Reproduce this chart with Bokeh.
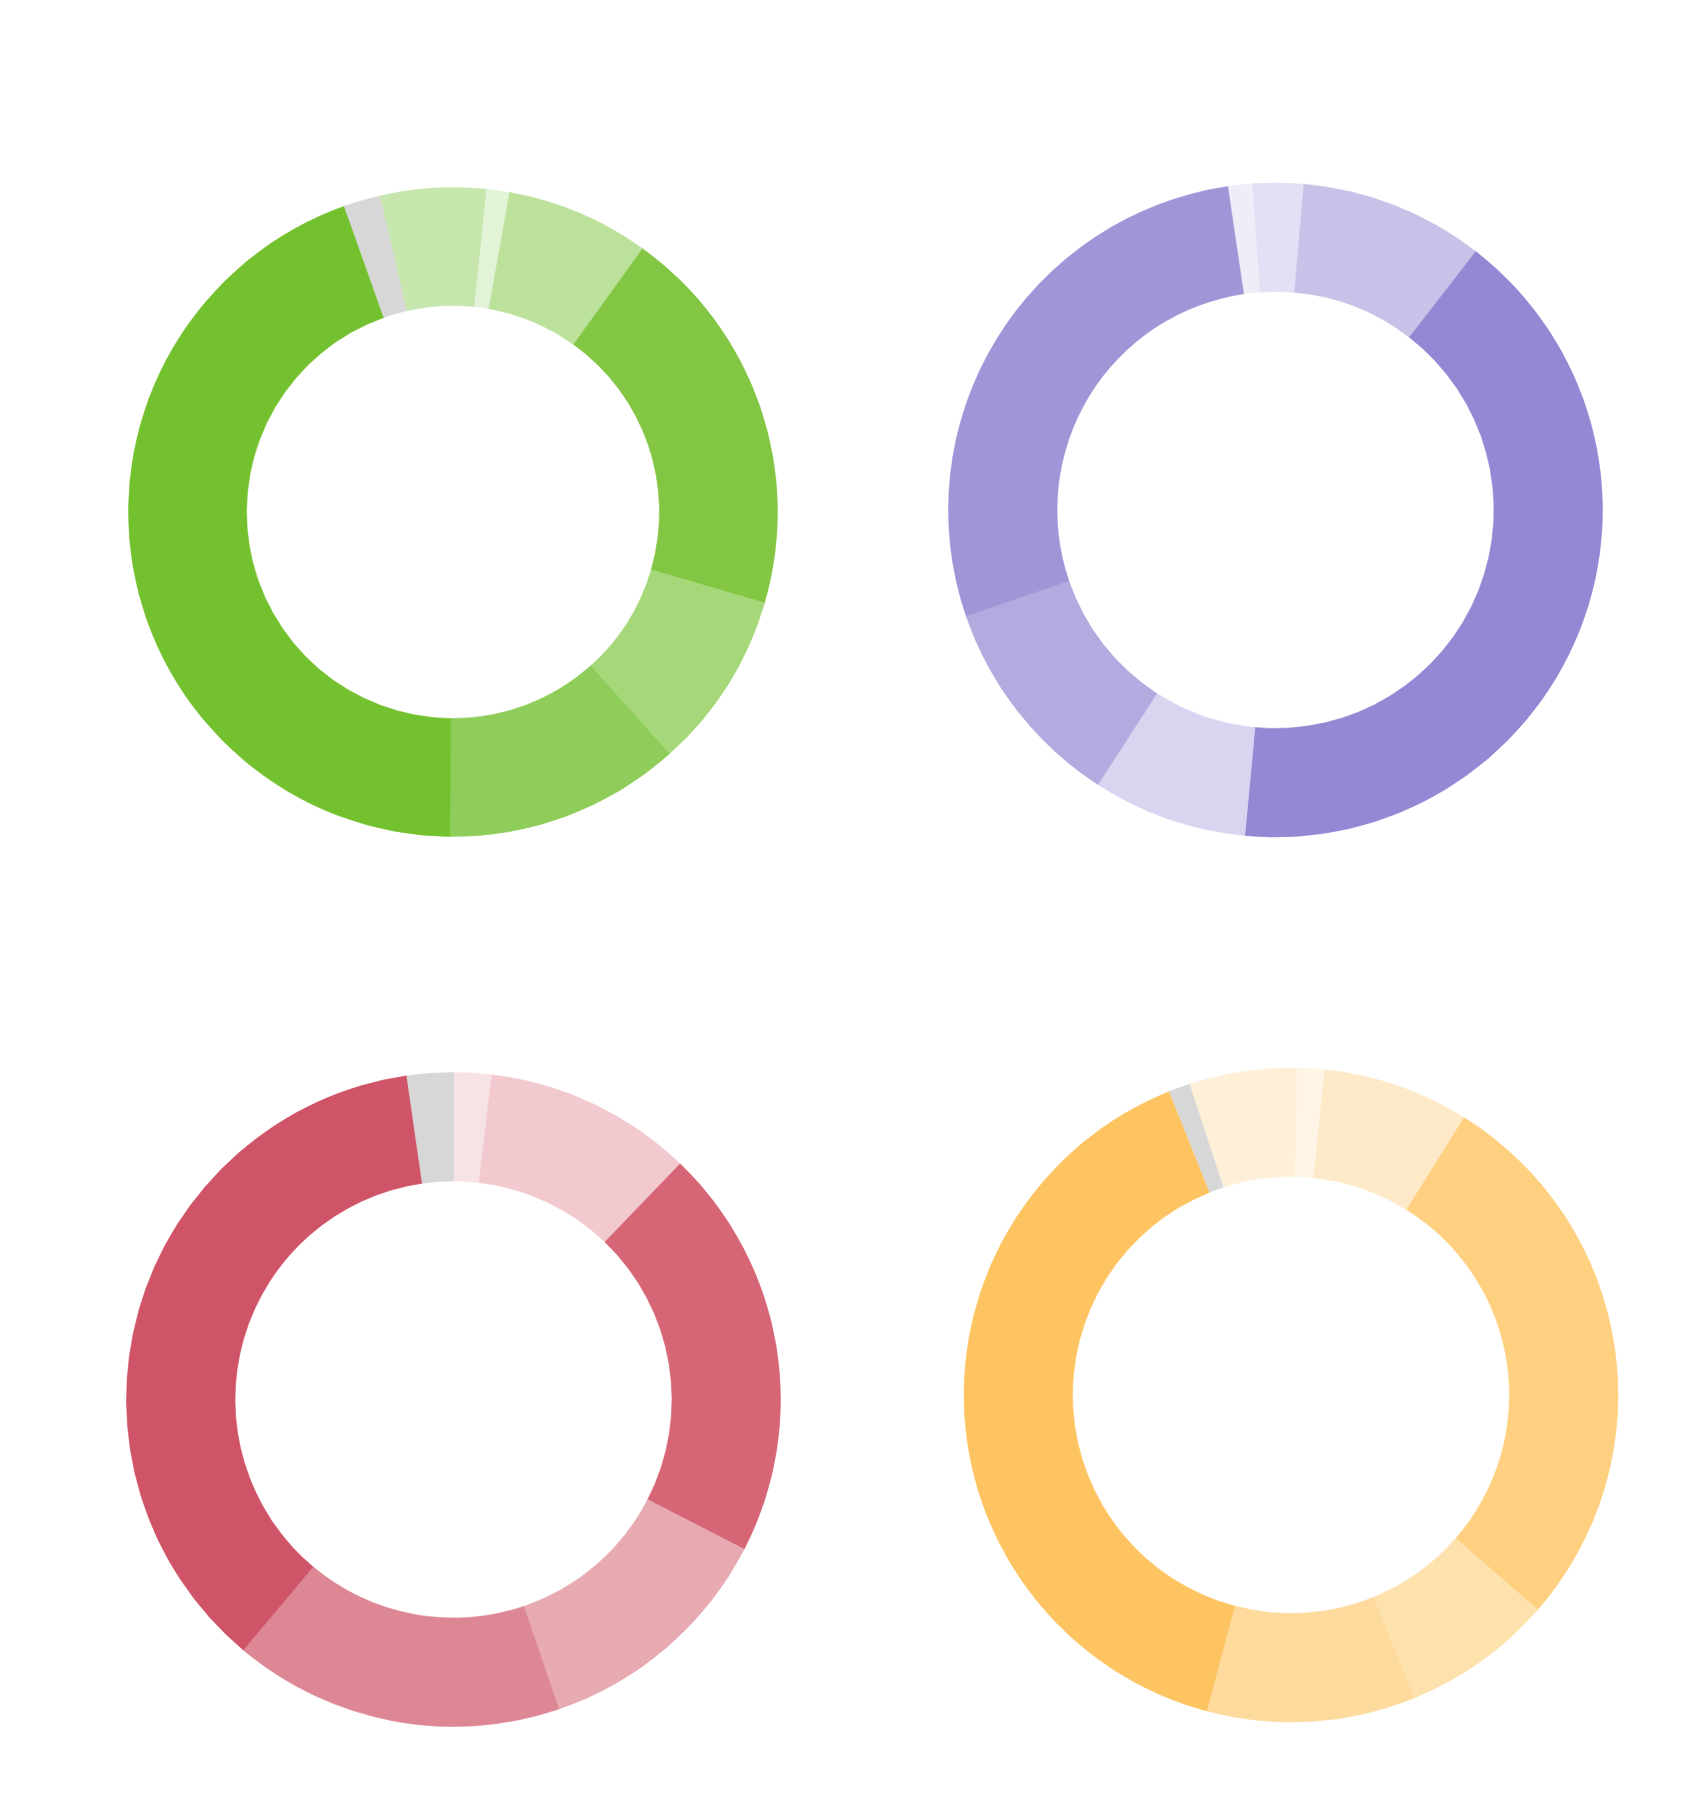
import numpy as np
from bokeh.plotting import figure
from bokeh.layouts import gridplot
from bokeh.models import Range1d, ColumnDataSource
from bokeh.embed import file_html
from bokeh.resources import INLINE

# ---- data (shares, percent) ----
green_values = [5.29, 1.13, 7.14, 19.59, 8.86, 11.78, 44.41, 1.81]
green_colors = ["#c6e6ad", "#e2f3d8", "#bce19a", "#82c644", "#a6d87a", "#8fcd5a", "#73c12e", "#d7d7d7"]

purple_values = [1.22, 2.50, 9.11, 41.00, 7.64, 10.61, 27.92]
purple_colors = ["#f0edf9", "#e3dff4", "#c8c2e8", "#9487d4", "#dad4f1", "#b4aadf", "#9f95d7"]

red_values = [1.87, 10.32, 20.39, 12.21, 16.33, 36.61, 2.28]
red_colors = ["#f7e3e6", "#f1c9ce", "#d66676", "#e7aab1", "#dc8793", "#d05467", "#d7d7d7"]

orange_values = [5.34, 1.34, 7.23, 27.52, 7.45, 10.30, 39.78, 1.04]
orange_colors = ["#fef0d8", "#fff5e6", "#feeac9", "#fed080", "#fee2ae", "#feda9c", "#fec462", "#d7d7d7"]

# ---- layout / style ----
# (start angle clockwise from 12 o'clock in degrees, inner r, outer r, center x, center y in panel)
PANEL_W, PANEL_H = 850, 900
charts = [
    (green_values, green_colors, 346.95, 206.5, 324.5, 452.5, 511.5),
    (purple_values, purple_colors, 351.6, 218.5, 327, 425, 509.5),
    (red_values, red_colors, 0.0, 218.5, 327, 453, 499),
    (orange_values, orange_colors, 341.9, 218.5, 327, 440.5, 494.5),
]


def donut(values, colors, start_deg, r_in, r_out, cx, cy):
    p = figure(width=PANEL_W, height=PANEL_H, output_backend="svg", toolbar_location=None,
               x_axis_location=None, y_axis_location=None, min_border=0,
               x_range=Range1d(-cx, PANEL_W - cx), y_range=Range1d(-(PANEL_H - cy), cy))
    p.grid.visible = False
    p.outline_line_color = None
    p.background_fill_color = "white"
    p.border_fill_color = "white"
    vals = np.array(values, dtype=float)
    frac = np.cumsum(vals) / vals.sum()
    prev = np.concatenate([[0.0], frac[:-1]])
    theta1 = start_deg + 360.0 * prev
    theta2 = start_deg + 360.0 * frac
    src = ColumnDataSource(dict(
        start=np.radians(90.0 - theta1),
        end=np.radians(90.0 - theta2),
        color=colors,
    ))
    p.annular_wedge(x=0, y=0, inner_radius=r_in, outer_radius=r_out,
                    start_angle="start", end_angle="end", direction="clock",
                    fill_color="color", line_color="color", line_width=0.6, source=src)
    return p


figs = [donut(*c) for c in charts]
grid = gridplot([[figs[0], figs[1]], [figs[2], figs[3]]], toolbar_location=None)

open("out.html", "w").write(file_html(grid, INLINE))
